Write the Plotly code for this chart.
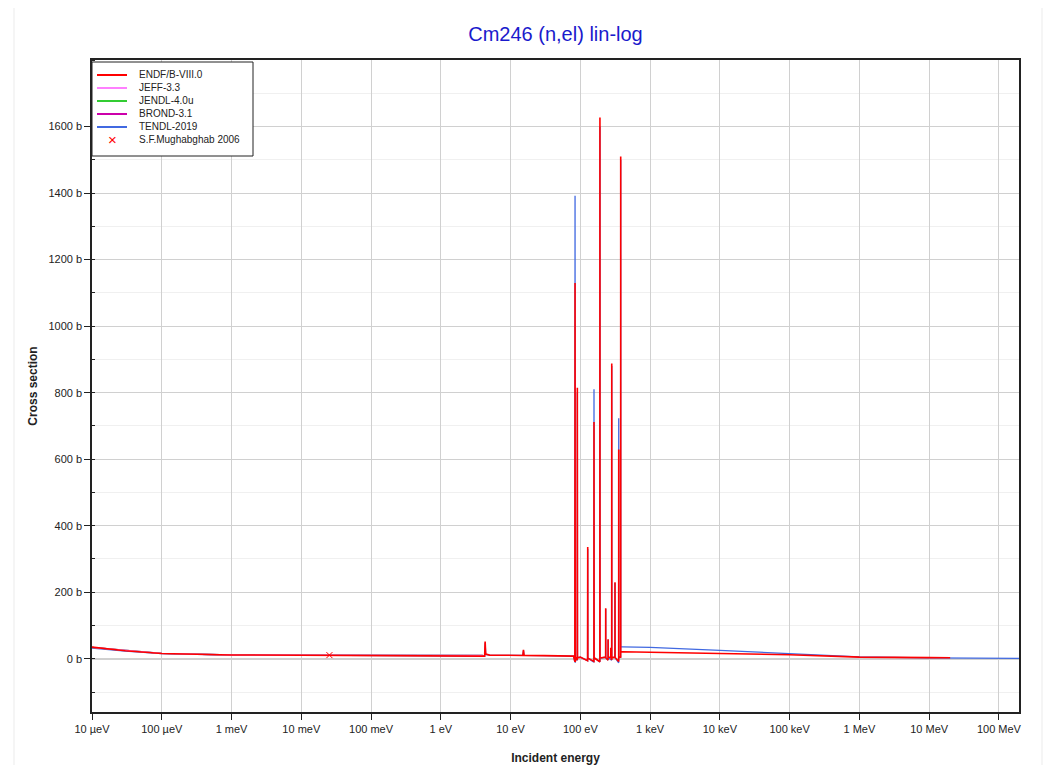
import plotly.graph_objects as go

# ---------------- data (energy in eV, cross section in barns) ----------------
endf_e = [1e-5, 3e-5, 1e-4, 3e-4, 1e-3, 1e-2, 2.53e-2, 0.1, 1, 4.0, 4.25, 4.32, 4.4, 5, 10,
          15.0, 15.3, 15.6, 30, 50, 80, 83.5, 84.0, 84.5, 86, 90.3, 90.6, 91, 100,
          127, 127.6, 128.2, 156.5, 157, 157.5, 190.5, 191, 191.5, 230.5, 231, 231.5,
          249.5, 250, 250.5, 272.5, 273, 273.5, 281.5, 282, 282.5, 313.5, 314, 314.5,
          354.5, 355, 355.5, 378.5, 379, 379.5, 400, 1e3, 1e4, 1e5, 1e6, 1e7, 2e7]
endf_xs = [35, 24, 16, 13, 11.5, 10.8, 10.6, 10.4, 10.2, 10.0, 8, 52, 14, 11, 10.5,
           10, 27, 10, 9.5, 9, 8, -8, 1130, -10, 5, -4, 815, 3, 5,
           -6, 336, 2, -8, 712, 3, -9, 1627, 2, 5, 152, 3,
           -4, 59, 4, 5, 33, 4, -4, 888, 3, 5, 230, 4,
           -8, 629, 4, 5, 1510, 20, 21, 19, 16, 12, 5, 3.5, 3]

tendl_e = [1e-5, 3e-5, 1e-4, 3e-4, 1e-3, 1e-2, 0.1, 1, 4.0, 4.25, 4.32, 4.4, 5, 10,
           15.0, 15.3, 15.6, 30, 50, 80, 83.5, 84.0, 84.5, 86, 90.3, 90.6, 91, 100,
           127, 127.6, 128.2, 156.5, 157, 157.5, 190.5, 191, 191.5, 230.5, 231, 231.5,
           249.5, 250, 250.5, 281.5, 282, 282.5, 313.5, 314, 314.5,
           354.5, 355, 355.5, 378.5, 379, 379.5, 400, 1e3, 1e4, 1e5, 1e6, 1e7, 2e8]
tendl_xs = [32, 23, 15.5, 12.8, 11.3, 10.7, 10.3, 10.1, 10.0, 8, 48, 13, 11, 10.4,
            10, 25, 10, 9.5, 9, 8, -10, 1392, -12, 5, -5, 800, 3, 5,
            -6, 330, 2, -10, 810, 3, -10, 1600, 2, 5, 150, 3,
            -4, 57, 4, -4, 880, 3, 5, 228, 4,
            -12, 723, 4, 5, 1500, 36, 36, 34, 25, 15, 6, 3, 1]

jeff_e = [1e-5, 1e-4, 1e-3, 1e-2, 0.1, 1, 4.0]
jeff_xs = [34, 16, 11.4, 10.8, 10.4, 10.2, 10.0]
jendl_e = [1e-5, 1e-4, 1e-3, 1e-2, 0.1, 1, 4.0]
jendl_xs = [34, 16, 11.4, 10.8, 10.4, 10.2, 10.0]
brond_e = [1e-5, 1e-4, 1e-3, 1e-2, 0.1, 1, 4.0]
brond_xs = [34.5, 16, 11.4, 10.8, 10.4, 10.2, 10.0]

exp_e = [0.0253]
exp_xs = [11]

xtick_vals = [1e-5, 1e-4, 1e-3, 1e-2, 1e-1, 1, 10, 100, 1e3, 1e4, 1e5, 1e6, 1e7, 1e8]
xtick_text = ["10 µeV", "100 µeV", "1 meV", "10 meV", "100 meV", "1 eV", "10 eV", "100 eV",
              "1 keV", "10 keV", "100 keV", "1 MeV", "10 MeV", "100 MeV"]
ytick_vals = [0, 200, 400, 600, 800, 1000, 1200, 1400, 1600]
ytick_text = [f"{v} b" for v in ytick_vals]

legend_names = ["ENDF/B-VIII.0", "JEFF-3.3", "JENDL-4.0u", "BROND-3.1", "TENDL-2019",
                "S.F.Mughabghab 2006"]
colors = {"ENDF/B-VIII.0": "#ff0000", "JEFF-3.3": "#ff80ff", "JENDL-4.0u": "#33cc33",
          "BROND-3.1": "#cc00aa", "TENDL-2019": "#4169e1", "S.F.Mughabghab 2006": "#ff0000"}

# ---------------- geometry (figure is offset 8px by page body margin) ----------------
W, H = 1047, 757
ML, MR, MT, MB = 84, 36, 52, 53
PW, PH = W - ML - MR, H - MT - MB


def px(xpage):
    return (xpage - 8 - ML) / PW


def py(ypage):
    return 1 - (ypage - 8 - MT) / PH


fig = go.Figure()
fig.add_trace(go.Scatter(x=tendl_e, y=tendl_xs, mode="lines", name="TENDL-2019",
                         line=dict(color=colors["TENDL-2019"], width=1.3)))
fig.add_trace(go.Scatter(x=brond_e, y=brond_xs, mode="lines", name="BROND-3.1",
                         line=dict(color=colors["BROND-3.1"], width=1.3)))
fig.add_trace(go.Scatter(x=jendl_e, y=jendl_xs, mode="lines", name="JENDL-4.0u",
                         line=dict(color=colors["JENDL-4.0u"], width=1.3)))
fig.add_trace(go.Scatter(x=jeff_e, y=jeff_xs, mode="lines", name="JEFF-3.3",
                         line=dict(color=colors["JEFF-3.3"], width=1.3)))
fig.add_trace(go.Scatter(x=endf_e, y=endf_xs, mode="lines", name="ENDF/B-VIII.0",
                         line=dict(color=colors["ENDF/B-VIII.0"], width=1.6)))
fig.add_trace(go.Scatter(x=exp_e, y=exp_xs, mode="markers", name="S.F.Mughabghab 2006",
                         marker=dict(symbol="x-thin", size=6, color="#ff0000",
                                     line=dict(color="#ff0000", width=1))))

# ---------------- custom compact legend ----------------
shapes = [
    # outer light frame of the chart
    dict(type="line", xref="paper", yref="paper", x0=px(14), x1=px(14), y0=py(8), y1=py(773),
         line=dict(color="#ebebeb", width=1), layer="below"),
    dict(type="line", xref="paper", yref="paper", x0=px(1042), x1=px(1042), y0=py(8), y1=py(773),
         line=dict(color="#ebebeb", width=1), layer="below"),
    # legend box
    dict(type="rect", xref="paper", yref="paper", x0=px(92), x1=px(253), y0=py(156), y1=py(62),
         fillcolor="white", line=dict(color="#222", width=1), layer="above"),
]
annotations = []
row_y = [75, 88, 101, 114, 127, 140]
for name, yy in zip(legend_names, row_y):
    if name != "S.F.Mughabghab 2006":
        shapes.append(dict(type="line", xref="paper", yref="paper", x0=px(97), x1=px(127),
                           y0=py(yy), y1=py(yy), line=dict(color=colors[name], width=2),
                           layer="above"))
    else:
        annotations.append(dict(xref="paper", yref="paper", x=px(112), y=py(yy), text="×",
                                showarrow=False, font=dict(size=15, color="#ff0000"),
                                xanchor="center", yanchor="middle"))
    annotations.append(dict(xref="paper", yref="paper", x=px(137), y=py(yy), text=name,
                            showarrow=False, font=dict(size=10, color="#222"),
                            xanchor="left", yanchor="middle"))

fig.update_layout(
    width=W, height=H,
    paper_bgcolor="white", plot_bgcolor="white",
    margin=dict(l=ML, r=MR, t=MT, b=MB),
    font=dict(family="Arial, Liberation Sans, sans-serif", size=11, color="#222"),
    title=dict(text="Cm246 (n,el) lin-log", x=0.5, xref="paper", y=1 - 26 / H, yref="container",
               xanchor="center", yanchor="middle",
               font=dict(size=20, color="#1a1acc")),
    showlegend=False,
    shapes=shapes,
    annotations=annotations,
)
fig.update_xaxes(
    type="log", range=[-5, 8.288], automargin=False,
    tickvals=xtick_vals, ticktext=xtick_text,
    showgrid=True, gridcolor="#d0d0d0", gridwidth=1,
    showline=True, linecolor="#222", linewidth=1.5, mirror=True,
    ticks="outside", ticklen=6, tickcolor="#222",
    zeroline=False,
    title=dict(text="<b>Incident energy</b>", font=dict(size=12), standoff=20),
)
fig.update_yaxes(
    range=[-160, 1800], automargin=False,
    tickvals=ytick_vals, ticktext=ytick_text,
    showgrid=True, gridcolor="#d0d0d0", gridwidth=1,
    minor=dict(dtick=100, showgrid=True, gridcolor="#f0f0f0", ticks="inside", ticklen=3,
               tickcolor="#222"),
    showline=True, linecolor="#222", linewidth=1.5, mirror=True,
    ticks="outside", ticklen=6, tickcolor="#222",
    zeroline=True, zerolinecolor="#d0d0d0", zerolinewidth=2,
    title=dict(text="<b>Cross section</b>", font=dict(size=12), standoff=8),
)

fig.write_html("out.html")
